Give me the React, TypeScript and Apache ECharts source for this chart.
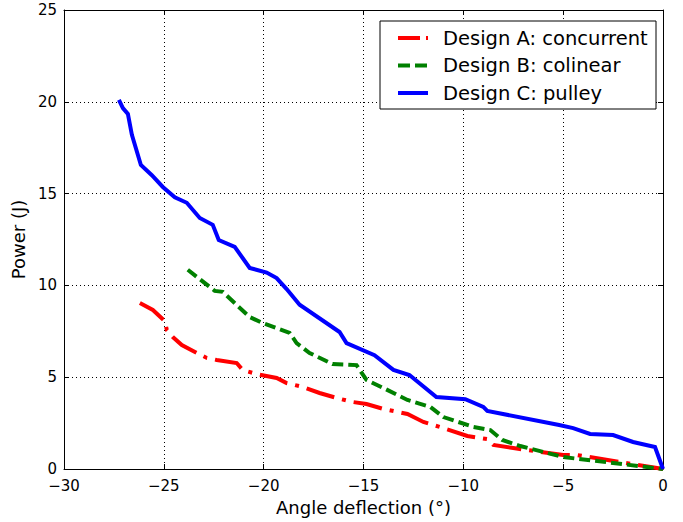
import React, { useEffect, useRef } from "react";
import * as echarts from "echarts";

const seriesNames = ["Design A: concurrent", "Design B: colinear", "Design C: pulley"];
const xTicks = { min: -30, max: 0, interval: 5 };
const yTicks = { min: 0, max: 25, interval: 5 };

const designA: [number, number][] = [
  [-26.2, 9.04], [-25.55, 8.66], [-24.95, 8.06], [-24.85, 7.57], [-24.55, 7.19], [-24.1, 6.75],
  [-23.35, 6.32], [-22.85, 6.05], [-22.35, 5.94], [-21.35, 5.77], [-21.05, 5.39], [-20.35, 5.17],
  [-19.35, 4.96], [-18.85, 4.68], [-18.05, 4.47], [-17.2, 4.14], [-16.35, 3.87], [-15.55, 3.65],
  [-14.85, 3.54], [-14.0, 3.27], [-12.8, 3.0], [-12.0, 2.56], [-11.0, 2.23], [-9.8, 1.8],
  [-8.8, 1.63], [-8.5, 1.31], [-7.5, 1.14], [-5.0, 0.76], [-4.3, 0.76], [-0.3, 0.05], [0, 0],
];

const designB: [number, number][] = [
  [-23.8, 10.85], [-22.45, 9.7], [-22.05, 9.65], [-21.35, 8.93], [-20.7, 8.28], [-20.05, 7.95],
  [-18.7, 7.41], [-18.35, 6.86], [-17.7, 6.32], [-16.55, 5.72], [-15.35, 5.66], [-14.85, 4.85],
  [-14.0, 4.41], [-12.8, 3.76], [-11.65, 3.38], [-11.0, 2.83], [-9.5, 2.29], [-8.65, 2.12],
  [-8.05, 1.58], [-7.15, 1.25], [-5.0, 0.65], [-2.5, 0.33], [0, 0],
];

const designC: [number, number][] = [
  [-27.25, 20.1], [-27.05, 19.66], [-26.8, 19.34], [-26.6, 18.2], [-26.15, 16.56], [-25.6, 16.0],
  [-25.05, 15.36], [-24.45, 14.8], [-23.85, 14.5], [-23.2, 13.67], [-22.55, 13.3], [-22.25, 12.47],
  [-21.45, 12.1], [-20.7, 10.95], [-19.85, 10.7], [-19.35, 10.4], [-18.85, 9.8], [-18.2, 8.95],
  [-16.2, 7.46], [-15.85, 6.86], [-14.45, 6.2], [-13.5, 5.4], [-12.7, 5.12], [-11.35, 3.92],
  [-9.9, 3.8], [-9.0, 3.38], [-8.8, 3.16], [-5.2, 2.4], [-4.5, 2.23], [-3.65, 1.91], [-2.5, 1.85],
  [-1.5, 1.47], [-0.4, 1.2], [0, 0],
];

const colors = ["#ff0000", "#008000", "#0000ff"];
const dashes: (number[] | "solid")[] = [[29, 8, 4, 8], [11, 5], "solid"];
const FONT = "DejaVu Sans";

export default function App() {
  const ref = useRef<HTMLDivElement>(null);
  useEffect(() => {
    document.body.style.margin = "0";
    const chart = echarts.init(ref.current!, null, { renderer: "svg" });
    const minus = (v: number) => String(v).replace("-", "\u2212");
    const baseAxis = {
      axisLine: { show: true, onZero: false, lineStyle: { color: "#000", width: 1 } },
      axisTick: { show: true, inside: true, length: 5, lineStyle: { color: "#000" } },
      splitLine: { show: false },
    };
    const legendX = 380, legendY = 21, legendW = 276, legendH = 88;
    const legendItems = seriesNames.map((name, i) => {
      const cy = legendY + 17 + i * 27.5;
      return [
        {
          type: "line",
          shape: { x1: legendX + 18, y1: cy, x2: legendX + 48, y2: cy },
          style: {
            stroke: colors[i],
            lineWidth: 4,
            lineDash: dashes[i] === "solid" ? null : (i === 0 ? [22, 6, 3, 6] : [12, 5]),
          },
          z: 101,
        },
        {
          type: "text",
          x: legendX + 63,
          y: cy,
          style: { text: name, font: `19.5px '${FONT}'`, fill: "#000", verticalAlign: "middle", align: "left" },
          z: 101,
        },
      ];
    }).flat();
    chart.setOption({
      animation: false,
      backgroundColor: "#fff",
      grid: { left: 64, right: 20, top: 10, bottom: 53 },
      xAxis: [
        {
          type: "value",
          ...xTicks,
          position: "bottom",
          ...baseAxis,
          splitLine: { show: true, lineStyle: { color: "#000", type: [1, 3], width: 1 } },
          axisLabel: { color: "#000", fontSize: 15, fontFamily: FONT, margin: 10, lineHeight: 14, formatter: minus },
          name: "Angle deflection (\u00b0)",
          nameLocation: "middle",
          nameGap: 27,
          nameTextStyle: { color: "#000", fontSize: 18, fontFamily: FONT },
        },
        { type: "value", ...xTicks, position: "top", ...baseAxis, axisLabel: { show: false } },
      ],
      yAxis: [
        {
          type: "value",
          ...yTicks,
          position: "left",
          ...baseAxis,
          splitLine: { show: true, lineStyle: { color: "#000", type: [1, 3], width: 1 } },
          axisLabel: { color: "#000", fontSize: 15, fontFamily: FONT, margin: 7, lineHeight: 13, formatter: minus },
          name: "Power (J)",
          nameLocation: "middle",
          nameGap: 35,
          nameTextStyle: { color: "#000", fontSize: 18, fontFamily: FONT },
        },
        { type: "value", ...yTicks, position: "right", ...baseAxis, axisLabel: { show: false } },
      ],
      series: [designA, designB, designC].map((d, i) => ({
        name: seriesNames[i],
        type: "line",
        data: d,
        xAxisIndex: 0,
        yAxisIndex: 0,
        showSymbol: false,
        symbol: "none",
        lineStyle: { color: colors[i], width: 4, type: dashes[i], cap: "butt", join: "miter" },
        z: 10 + i,
      })),
      graphic: [
        {
          type: "rect",
          shape: { x: legendX, y: legendY, width: legendW, height: legendH },
          style: { fill: "#fff", stroke: "#000", lineWidth: 1 },
          z: 100,
        },
        ...legendItems,
      ],
    });
    return () => chart.dispose();
  }, []);
  return <div ref={ref} style={{ width: 683, height: 522 }} />;
}
